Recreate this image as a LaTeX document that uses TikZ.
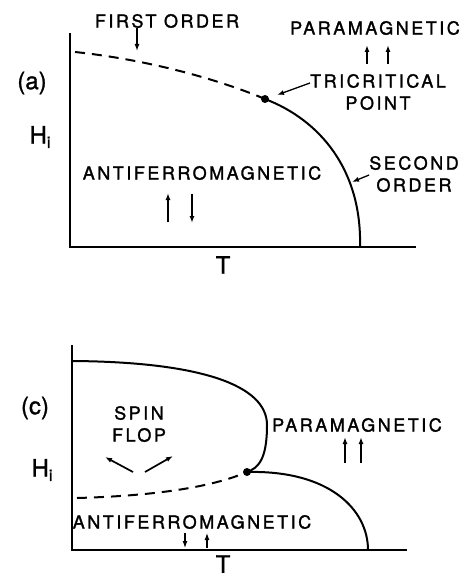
\documentclass[tikz,border=0pt]{standalone}
\usepackage{fontspec}
\setmainfont{TeX Gyre Heros}[FakeBold=1.2]
\newfontfamily\lblfont[LetterSpace=14, FakeBold=1.5]{TeX Gyre Heros}
\usetikzlibrary{arrows.meta}

\tikzset{
  lbl/.style={font=\lblfont\fontsize{18}{20}\selectfont, inner sep=0pt, align=center},
  axlbl/.style={font=\fontsize{24}{26}\selectfont, inner sep=0pt},
  axis/.style={line width=1.4pt},
  phase/.style={line width=2pt},
  firstorder/.style={phase, dash pattern=on 10pt off 7pt},
  ptr/.style={-{Latex[length=7pt,width=5pt]}, line width=1.3pt},
  spinarr/.style={-{Latex[length=7pt,width=5pt]}, line width=1.7pt},
}
\newcommand{\Hlabel}{H\raisebox{-0.35ex}{\fontsize{16}{16}\selectfont i}}

\begin{document}
\begin{tikzpicture}[x=1pt, y=-1pt] % pixel coordinates, y runs down
    \useasboundingbox (0,0) rectangle (460,577);

    % ---------- panel (a) ----------
    % Axes
    \draw[axis] (70,33) -- (70,247) -- (416,247);
    \node[axlbl] (la) at (32,83) {(a)};
    \node[axlbl] (ha) at (40,137) {\Hlabel};
    \node[axlbl] (ta) at (223,265) {T};

    % Phase boundary
    \coordinate (tcp) at (265,99);
    \draw[firstorder] (75,52) .. controls (150,60) and (220,80) .. (tcp);
    \draw[phase] (tcp) .. controls (320,120) and (362,170) .. (360,247);
    \fill (tcp) circle[radius=4pt];

    % Labels
    \node[lbl] (first) at (167,21) {FIRST ORDER};
    \node[lbl] (paraa) at (375,28) {PARAMAGNETIC};
    \node[lbl] (tri) at (378,92) {TRICRITICAL\\[2pt]POINT};
    \node[lbl] (afa) at (202,173) {ANTIFERROMAGNETIC};
    \node[lbl] (second) at (414,174) {SECOND\\[2pt]ORDER};

    % Pointers
    \coordinate (fo) at (137,51);
    \draw[ptr] (first.south -| fo) -- (fo);
    \coordinate (tcpin) at (277,95);
    \draw[ptr] (tri.west |- 0,83) -- (tcpin);
    \coordinate (so) at (352,182);
    \draw[ptr] (second.west |- 0,175) -- (so);

    % Spins
    \draw[spinarr] (367,64) -- (367,45);
    \draw[spinarr] (388,64) -- (388,45);
    \draw[spinarr] (168,222) -- (168,193);
    \draw[spinarr] (192,194) -- (192,223);

    % ---------- panel (c) ----------
    % Axes
    \draw[axis] (72,345) -- (72,550) -- (407,550);
    \node[axlbl] (lc) at (35,408) {(c)};
    \node[axlbl] (hc) at (42,470) {\Hlabel};
    \node[axlbl] (tc) at (223,564) {T};

    % Phase boundaries
    \coordinate (bcp) at (247,472);
    \draw[phase] (73,361) .. controls (200,362) and (267,385) .. (267,425)
                 .. controls (267,460) and (258,468) .. (bcp);
    \draw[phase] (bcp) .. controls (330,470) and (368,510) .. (368,550);
    \draw[firstorder] (77,498) .. controls (150,496) and (210,488) .. (bcp);
    \fill (bcp) circle[radius=4pt];

    % Labels
    \node[lbl] (sf) at (139,424) {SPIN\\[2pt]FLOP};
    \node[lbl] (parac) at (357,425) {PARAMAGNETIC};
    \node[lbl] (afc) at (192,522) {ANTIFERROMAGNETIC};

    % Spins
    \draw[spinarr] (133,472) -- (105,457);
    \draw[spinarr] (145,472) -- (173,456);
    \draw[spinarr] (345,463) -- (345,437);
    \draw[spinarr] (361,463) -- (361,437);
    \draw[spinarr, line width=1.2pt] (185,533) -- (185,548);
    \draw[spinarr, line width=1.2pt] (207,548) -- (207,533);
\end{tikzpicture}
\end{document}
